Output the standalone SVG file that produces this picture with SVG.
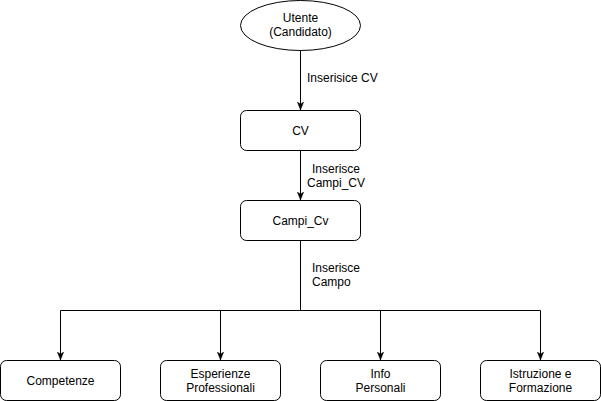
<svg xmlns="http://www.w3.org/2000/svg" width="601" height="401" viewBox="0 0 601 401">
<style>
.n{fill:#fff;stroke:#000;stroke-width:1}
.t{font-family:"Liberation Sans",Arial,sans-serif;font-size:12px;fill:#000;text-anchor:middle}
.l{font-family:"Liberation Sans",Arial,sans-serif;font-size:12px;fill:#000}
.c{fill:none;stroke:#000;stroke-width:1}
</style>
<defs>
<marker id="a" viewBox="0 0 10 10" refX="10" refY="5" markerWidth="8" markerHeight="8" markerUnits="userSpaceOnUse" orient="auto">
<path d="M0,1 L10,5 L0,9 L2.5,5 Z" fill="#000" stroke="#000" stroke-width="0.5"/>
</marker>
</defs>
<rect width="601" height="401" fill="#fff"/>
<g id="connectors">
<path class="c" d="M300.5,50 V110" marker-end="url(#a)"/>
<path class="c" d="M300.5,150 V200" marker-end="url(#a)"/>
<path class="c" d="M300.5,240 V310.5 H60.5 V360" marker-end="url(#a)"/>
<path class="c" d="M300.5,310.5 H220.5 V360" marker-end="url(#a)"/>
<path class="c" d="M300.5,310.5 H380.5 V360" marker-end="url(#a)"/>
<path class="c" d="M300.5,310.5 H540.5 V360" marker-end="url(#a)"/>
<text class="l" x="307" y="82">Inserisice CV</text>
<text class="t" x="336" y="173">Inserisce</text>
<text class="t" x="336" y="187">Campi_CV</text>
<text class="l" x="312" y="272">Inserisce</text>
<text class="l" x="312" y="286">Campo</text>
</g>
<g id="utente">
<ellipse class="n" cx="300.5" cy="25.5" rx="60" ry="25"/>
<text class="t" x="300.5" y="22">Utente</text>
<text class="t" x="300.5" y="36">(Candidato)</text>
</g>
<g id="cv">
<rect class="n" x="240.5" y="110.5" width="120" height="40" rx="6"/>
<text class="t" x="300.5" y="134.5">CV</text>
</g>
<g id="campi_cv">
<rect class="n" x="240.5" y="200.5" width="120" height="40" rx="6"/>
<text class="t" x="300.5" y="224.5">Campi_Cv</text>
</g>
<g id="competenze">
<rect class="n" x="0.5" y="360.5" width="120" height="40" rx="6"/>
<text class="t" x="60.5" y="384.5">Competenze</text>
</g>
<g id="esperienze">
<rect class="n" x="160.5" y="360.5" width="120" height="40" rx="6"/>
<text class="t" x="220.5" y="377.5">Esperienze</text>
<text class="t" x="220.5" y="391.5">Professionali</text>
</g>
<g id="info">
<rect class="n" x="320.5" y="360.5" width="120" height="40" rx="6"/>
<text class="t" x="380.5" y="377.5">Info</text>
<text class="t" x="380.5" y="391.5">Personali</text>
</g>
<g id="istruzione">
<rect class="n" x="480.5" y="360.5" width="120" height="40" rx="6"/>
<text class="t" x="540.5" y="377.5">Istruzione e</text>
<text class="t" x="540.5" y="391.5">Formazione</text>
</g>
</svg>
